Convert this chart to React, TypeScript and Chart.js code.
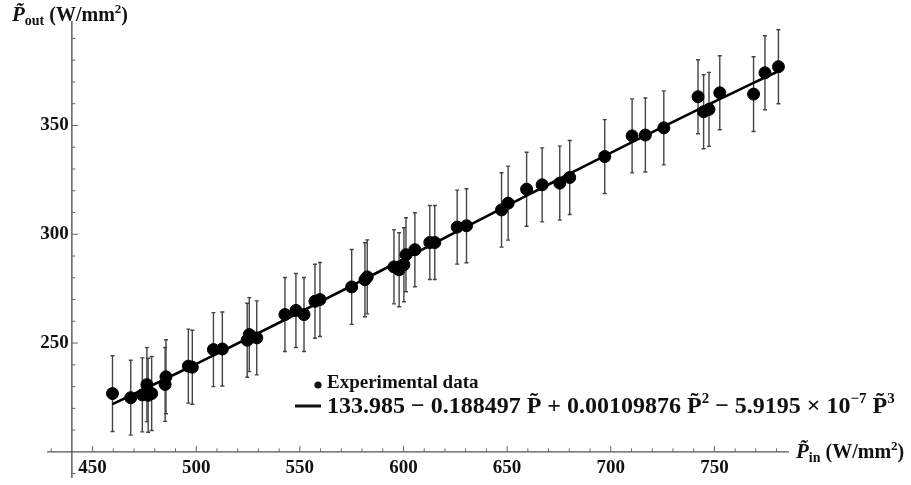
import React, { useEffect, useRef } from "react";
import { Chart, registerables } from "chart.js";

Chart.register(...registerables);

// Measured input power density (W/mm²)
const pinValues = [
  459.6, 468.4, 474.0, 476.2, 476.8, 478.5, 485.0, 485.4, 496.2, 498.1,
  508.3, 512.6, 524.6, 525.6, 529.2, 542.8, 548.1, 552.0, 557.3, 559.7,
  575.0, 581.4, 582.5, 595.4, 597.9, 600.2, 601.2, 605.5, 612.7, 615.1,
  625.9, 630.4, 647.3, 650.5, 659.4, 666.9, 675.4, 680.2, 697.1, 710.3,
  716.7, 725.6, 742.1, 744.8, 747.4, 752.6, 768.9, 774.4, 780.9,
];

// Measured output power density (W/mm²)
const poutValues = [
  226.8, 224.9, 226.2, 230.9, 226.0, 226.8, 231.0, 234.5, 239.4, 238.9,
  247.0, 247.3, 251.3, 253.9, 252.4, 263.1, 265.0, 263.1, 269.2, 270.0,
  275.8, 279.1, 280.4, 285.0, 283.7, 286.0, 290.6, 292.9, 296.2, 296.2,
  303.3, 303.9, 311.2, 314.3, 320.7, 322.7, 323.5, 326.1, 335.7, 345.2,
  345.6, 348.9, 363.2, 356.3, 357.4, 365.0, 364.4, 374.2, 377.0,
];

// Half-width of each error bar (W/mm²)
const poutErrors = [
  17.4, 17.2, 17, 17, 17, 17, 17, 17, 17, 17,
  17, 17, 17, 17, 17, 17, 17, 17, 17, 17,
  17.2, 17, 17, 17, 17, 17, 17, 17, 17, 17,
  17, 17, 17.1, 17, 17, 17, 17, 17, 17, 17,
  17, 17, 17, 17, 17, 17, 17.2, 17, 17,
];

// Cubic fit: c0 + c1 P + c2 P² + c3 P³
const fitCoefficients = [133.985, -0.188497, 0.00109876, -5.9195e-7];

const xMajorTicks = [450, 500, 550, 600, 650, 700, 750];
const yMajorTicks = [250, 300, 350];
const xRange = [428, 786];
const yRange = [188, 398];
const axesOrigin = [440, 200];
const minorStep = 10;

const legendLabels = ["Experimental data"];

const SERIF = '"Liberation Serif", "Times New Roman", Times, serif';

function fitValue(p: number): number {
  return fitCoefficients.reduce((s, c, i) => s + c * Math.pow(p, i), 0);
}

type Run = { t: string; size: number; italic?: boolean; dy?: number };

function drawRuns(ctx: CanvasRenderingContext2D, x: number, y: number, runs: Run[]) {
  let cx = x;
  ctx.textBaseline = "alphabetic";
  ctx.textAlign = "left";
  for (const r of runs) {
    ctx.font = `${r.italic ? "italic " : ""}bold ${r.size}px ${SERIF}`;
    ctx.fillText(r.t, cx, y + (r.dy || 0));
    cx += ctx.measureText(r.t).width;
  }
  return cx;
}

const mathAxesPlugin = {
  id: "mathAxes",
  beforeDatasetsDraw(chart: any) {
    const ctx: CanvasRenderingContext2D = chart.ctx;
    const xs = chart.scales.x;
    const ys = chart.scales.y;
    const area = chart.chartArea;
    const ax = xs.getPixelForValue(axesOrigin[0]);
    const ay = ys.getPixelForValue(axesOrigin[1]);

    ctx.save();
    ctx.strokeStyle = "#555";
    ctx.lineWidth = 1.4;

    // axis lines
    ctx.beginPath();
    ctx.moveTo(area.left, ay);
    ctx.lineTo(area.right, ay);
    ctx.moveTo(ax, area.top);
    ctx.lineTo(ax, area.bottom);
    ctx.stroke();

    // x ticks (inward, upward)
    ctx.lineWidth = 1;
    ctx.strokeStyle = "#666";
    const xStart = Math.ceil(xRange[0] / minorStep) * minorStep;
    for (let v = xStart; v <= xRange[1]; v += minorStep) {
      if (v === axesOrigin[0]) continue;
      const px = xs.getPixelForValue(v);
      const len = xMajorTicks.includes(v) ? 6 : 3.5;
      ctx.beginPath();
      ctx.moveTo(px, ay);
      ctx.lineTo(px, ay - len);
      ctx.stroke();
    }
    // y ticks (inward, rightward)
    const yStart = Math.ceil(yRange[0] / minorStep) * minorStep;
    for (let v = yStart; v <= yRange[1]; v += minorStep) {
      if (v === axesOrigin[1]) continue;
      const py = ys.getPixelForValue(v);
      const len = yMajorTicks.includes(v) ? 6 : 3.5;
      ctx.beginPath();
      ctx.moveTo(ax, py);
      ctx.lineTo(ax + len, py);
      ctx.stroke();
    }

    // tick labels
    ctx.fillStyle = "#111";
    ctx.font = `bold 19px ${SERIF}`;
    ctx.textAlign = "center";
    ctx.textBaseline = "top";
    for (const v of xMajorTicks) {
      ctx.fillText(String(v), xs.getPixelForValue(v), ay + 7);
    }
    ctx.textAlign = "right";
    ctx.textBaseline = "middle";
    for (const v of yMajorTicks) {
      ctx.fillText(String(v), ax - 3, ys.getPixelForValue(v));
    }

    // axis titles
    drawRuns(ctx, 12, 21, [
      { t: "P\u0303", size: 21, italic: true },
      { t: "out", size: 14, dy: 4 },
      { t: " (W/mm", size: 20 },
      { t: "2", size: 13, dy: -8 },
      { t: ")", size: 20 },
    ]);
    drawRuns(ctx, area.right + 7, ay + 6, [
      { t: "P\u0303", size: 21, italic: true },
      { t: "in", size: 14, dy: 4 },
      { t: " (W/mm", size: 20 },
      { t: "2", size: 13, dy: -8 },
      { t: ")", size: 20 },
    ]);

    // error bars
    ctx.strokeStyle = "#444";
    ctx.lineWidth = 1.4;
    pinValues.forEach((p, i) => {
      const px = xs.getPixelForValue(p);
      const y1 = ys.getPixelForValue(poutValues[i] + poutErrors[i]);
      const y2 = ys.getPixelForValue(poutValues[i] - poutErrors[i]);
      ctx.beginPath();
      ctx.moveTo(px, y1);
      ctx.lineTo(px, y2);
      ctx.moveTo(px - 2, y1);
      ctx.lineTo(px + 2, y1);
      ctx.moveTo(px - 2, y2);
      ctx.lineTo(px + 2, y2);
      ctx.stroke();
    });
    ctx.restore();
  },
  afterDraw(chart: any) {
    const ctx: CanvasRenderingContext2D = chart.ctx;
    ctx.save();
    ctx.fillStyle = "#111";
    // legend: data marker
    ctx.beginPath();
    ctx.arc(318, 385, 3.6, 0, Math.PI * 2);
    ctx.fill();
    drawRuns(ctx, 327, 388, [{ t: legendLabels[0], size: 19 }]);
    // legend: fitted curve
    ctx.strokeStyle = "#111";
    ctx.lineWidth = 3;
    ctx.beginPath();
    ctx.moveTo(295, 406);
    ctx.lineTo(321, 406);
    ctx.stroke();
    const c = fitCoefficients;
    drawRuns(ctx, 327, 413, [
      { t: `${c[0]} \u2212 ${-c[1]} P\u0303 + ${c[2].toFixed(8)} P\u0303`, size: 24 },
      { t: "2", size: 15, dy: -10 },
      { t: ` \u2212 5.9195 \u00d7 10`, size: 24 },
      { t: "\u22127", size: 15, dy: -10 },
      { t: " P\u0303", size: 24 },
      { t: "3", size: 15, dy: -10 },
    ]);
    ctx.restore();
  },
};

export default function App() {
  const canvasRef = useRef<HTMLCanvasElement | null>(null);

  useEffect(() => {
    if (!canvasRef.current) return;
    const chart = new Chart(canvasRef.current, {
      type: "scatter",
      data: {
        datasets: [
          {
            label: "Experimental data",
            data: pinValues.map((p, i) => ({ x: p, y: poutValues[i] })),
            backgroundColor: "#000",
            borderColor: "#000",
            pointRadius: 6,
            pointHoverRadius: 6,
            order: 0,
          },
          {
            type: "line",
            label: "fit",
            data: pinValues.map((p) => ({ x: p, y: fitValue(p) })),
            borderColor: "#000",
            borderWidth: 2.6,
            pointRadius: 0,
            showLine: true,
            fill: false,
            tension: 0,
            order: 1,
          } as any,
        ],
      },
      options: {
        animation: false,
        responsive: false,
        events: [],
        layout: { padding: { left: 47, right: 122, top: 21, bottom: 6 } },
        plugins: { legend: { display: false }, tooltip: { enabled: false } },
        scales: {
          x: { type: "linear", min: xRange[0], max: xRange[1], display: false },
          y: { type: "linear", min: yRange[0], max: yRange[1], display: false },
        },
      },
      plugins: [mathAxesPlugin],
    });
    return () => chart.destroy();
  }, []);

  return (
    <div style={{ position: "fixed", left: 0, top: 0, width: 911, height: 485, background: "#fff" }}>
      <canvas ref={canvasRef} width={911} height={485} style={{ display: "block" }} />
    </div>
  );
}
